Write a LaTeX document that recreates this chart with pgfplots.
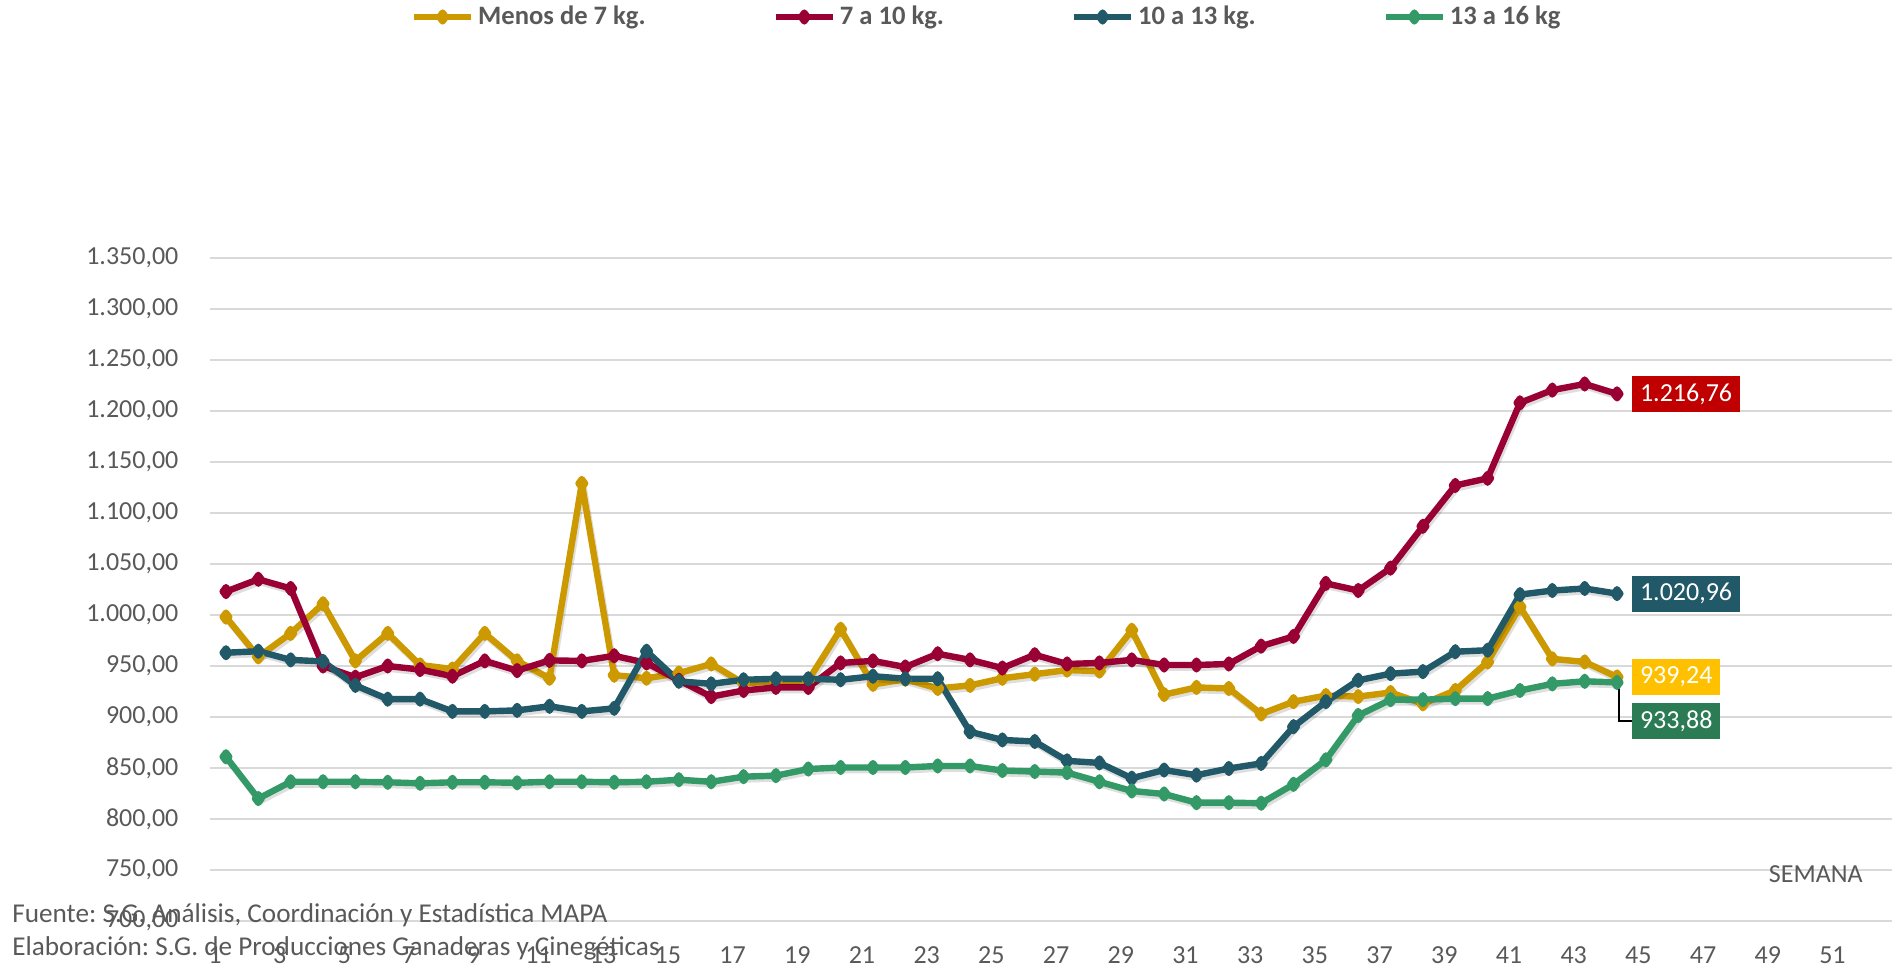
\documentclass[border=0pt]{standalone}
\usepackage{pgfplots}
\pgfplotsset{compat=1.18}
\usepackage{fontspec}
\setmainfont{Carlito}
\frenchspacing
\definecolor{cY}{HTML}{CC9900}
\definecolor{cR}{HTML}{990033}
\definecolor{cT}{HTML}{215968}
\definecolor{cG}{HTML}{339966}
\definecolor{bR}{HTML}{C00000}
\definecolor{bY}{HTML}{FFC000}
\definecolor{bG}{HTML}{2B7B55}
\definecolor{txt}{HTML}{595959}
\definecolor{gridc}{HTML}{D9D9D9}
\newcommand\f{\fontsize{13}{15.6}\selectfont}
\newcommand\ff{\fontsize{13.6}{16}\selectfont}
\pgfplotstableread{
w y r t g
1 998 1023 963 861
2 959 1035 964.5 820
3 982 1026 956 836.5
4 1011 950 954.5 836.5
5 955 939 931 836.5
6 982 950 917.5 836
7 951 946.5 917.5 835
8 947 940 905.5 836
9 982 955 905.5 836
10 955 945.5 906.5 835.5
11 938 955.5 910.5 836.5
12 1129 955 905.5 836.5
13 941 960 908.5 836
14 938 953 964.5 836.5
15 943 936 935 838.5
16 952 920 932.5 836.5
17 933 926 936.5 841.5
18 935 929 937.5 842.5
19 936 929 937.5 849
20 986 953 936.5 850.5
21 932 955 940 850.5
22 937 949 937.5 850.5
23 928 962 937.5 852
24 931 956 885.5 852
25 938 948 877.5 847.5
26 942 961 876 846.5
27 946 952 857 845.5
28 945 953 855 836.5
29 985 956 840 827.5
30 922 951 848 824.5
31 929 951 843 816
32 928 952 849.5 816
33 903 969.5 854.5 815.5
34 915 979 890.5 834
35 921 1031 915 858
36 920 1024 936 901.5
37 924 1046 942.5 917
38 913 1087 944.5 917
39 926 1127 964 918
40 954 1134 965.5 918
41 1008 1208 1020 926
42 957 1220.5 1024 932.5
43 954 1226.5 1026 935
44 939.24 1216.76 1020.96 933.88
}\data
\begin{document}
\begin{tikzpicture}
\useasboundingbox (-104.9pt,-25pt) rectangle (842.6pt,460.5pt);
\begin{axis}[
 at={(0pt,0pt)}, anchor=south west, scale only axis,
 width=841.1pt, height=331.5pt,
 xmin=0.5, xmax=52.5, ymin=700, ymax=1350,
 xtick={1,3,...,51}, ytick={700,750,...,1350},
 ymajorgrids, grid style={draw=gridc, line width=0.8pt},
 axis line style={draw=none}, major tick length=0pt,
 font=\f,
 tick label style={text=txt, font=\f},
 yticklabel style={anchor=east, inner sep=0pt, xshift=-15.5pt, /pgf/number format/.cd, fixed, fixed zerofill, precision=2, use comma, 1000 sep={.}, assume math mode=true},
 xticklabel style={anchor=north, inner sep=0pt, xshift=-5.5pt, yshift=-12.7pt, /pgf/number format/assume math mode=true},
 legend columns=4,
 legend style={at={(0.1196,1.3635)}, anchor=west, draw=none, fill=none, inner sep=0pt, outer sep=0pt, font=\fontsize{13.3}{15.6}\selectfont\bfseries, text=txt, /tikz/every even column/.append style={column sep=61.5pt}},
 legend image code/.code={\draw[#1, mark repeat=2, mark phase=2] plot coordinates {(0pt,0pt) (14.2pt,0pt) (28.4pt,0pt)};},
 every axis plot/.append style={line width=3.2pt, mark=diamond*, mark size=2.2pt, line join=round},
 shadow/.style={draw=black, opacity=0.13, no marks, forget plot, xshift=0.8pt, yshift=-1.4pt},
]
\addplot[shadow] table[x=w,y=y] {\data};
\addplot[cY, mark options={fill=cY}] table[x=w,y=y] {\data};
\addlegendentry{Menos de 7 kg.}
\addplot[shadow] table[x=w,y=r] {\data};
\addplot[cR, mark options={fill=cR}] table[x=w,y=r] {\data};
\addlegendentry{7 a 10 kg.}
\addplot[shadow] table[x=w,y=t] {\data};
\addplot[cT, mark options={fill=cT}] table[x=w,y=t] {\data};
\addlegendentry{10 a 13 kg.}
\addplot[shadow] table[x=w,y=g] {\data};
\addplot[cG, mark options={fill=cG}] table[x=w,y=g] {\data};
\addlegendentry{13 a 16 kg}
\node[fill=bR, text=white, anchor=west, inner xsep=4pt, minimum height=18pt, font=\f, xshift=7.3pt] at (axis cs:44,1216.76) {1.216,76};
\node[fill=cT, text=white, anchor=west, inner xsep=4pt, minimum height=18pt, font=\f, xshift=7.3pt] at (axis cs:44,1020.96) {1.020,96};
\node[fill=bY, text=white, anchor=west, inner xsep=4pt, minimum height=18pt, font=\f, xshift=7.3pt] at (axis cs:44,939.24) {939,24};
\node[fill=bG, text=white, anchor=west, inner xsep=4pt, minimum height=18pt, font=\f] (gl) at ([xshift=7.3pt,yshift=-19.3pt]axis cs:44,933.88) {933,88};
\draw[black, line width=0.6pt] ([xshift=1pt]axis cs:44,933.88) |- (gl.west);
\end{axis}
\node[anchor=west, inner sep=0pt, font=\ff, text=txt] at (-98.9pt,3.1pt) {Fuente: S.G. Análisis, Coordinación y Estadística MAPA};
\node[anchor=west, inner sep=0pt, font=\ff, text=txt] at (-98.9pt,-13.8pt) {Elaboración: S.G. de Producciones Ganaderas y Cinegéticas};
\node[inner sep=0pt, font=\f, text=txt] at (803pt,23.6pt) {SEMANA};
\end{tikzpicture}
\end{document}
